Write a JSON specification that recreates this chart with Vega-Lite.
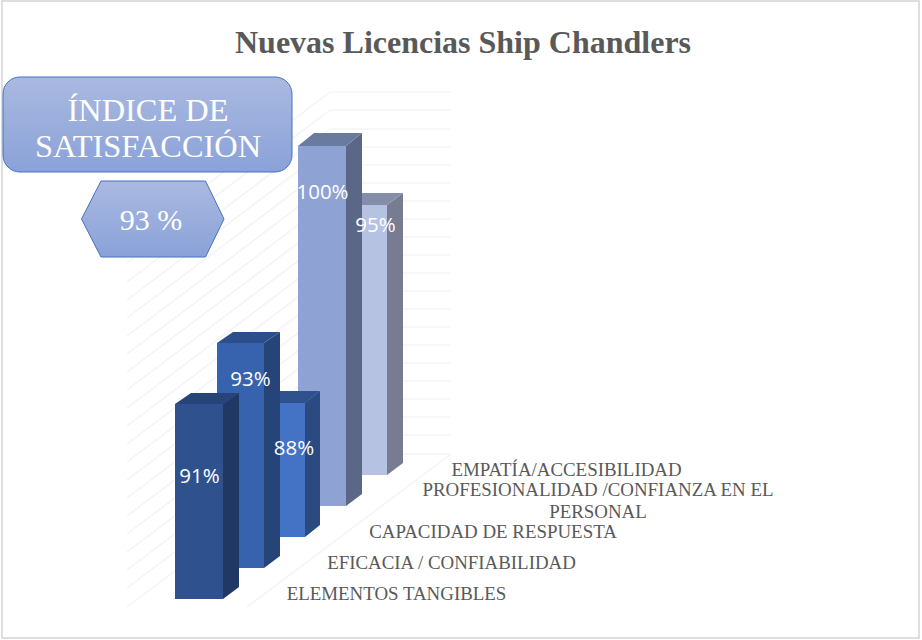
{
"$schema":"https://vega.github.io/schema/vega-lite/v6.json",
"width":922,"height":640,"autosize":"none","padding":0,
"background":"white",
"view":{"stroke":null},
"title":{"text":"Nuevas Licencias Ship Chandlers","font":"Liberation Serif","fontSize":32,"fontWeight":"bold","color":"#595959","anchor":"middle","offset":-60,"dx":2},
"datasets":{
"marco":[{"x":2,"x2":919,"y":1,"y2":638}],
"rejilla":[
{"x":330,"x2":451,"y":92,"y2":92},{"x":330,"x2":451,"y":110,"y2":110},{"x":330,"x2":451,"y":129,"y2":129},{"x":330,"x2":451,"y":147,"y2":147},{"x":330,"x2":451,"y":165,"y2":165},{"x":330,"x2":451,"y":183,"y2":183},{"x":330,"x2":451,"y":201,"y2":201},{"x":330,"x2":451,"y":219,"y2":219},{"x":330,"x2":451,"y":237,"y2":237},{"x":330,"x2":451,"y":255,"y2":255},{"x":330,"x2":451,"y":273,"y2":273},{"x":330,"x2":451,"y":291,"y2":291},{"x":330,"x2":451,"y":309,"y2":309},{"x":330,"x2":451,"y":327,"y2":327},{"x":330,"x2":451,"y":345,"y2":345},{"x":330,"x2":451,"y":363,"y2":363},{"x":330,"x2":451,"y":381,"y2":381},{"x":330,"x2":451,"y":399,"y2":399},{"x":330,"x2":451,"y":417,"y2":417},{"x":330,"x2":451,"y":435,"y2":435},{"x":330,"x2":451,"y":454,"y2":454},
{"x":127,"x2":330,"y":245,"y2":92},{"x":127,"x2":330,"y":263,"y2":110},{"x":127,"x2":330,"y":282,"y2":129},{"x":127,"x2":330,"y":300,"y2":147},{"x":127,"x2":330,"y":318,"y2":165},{"x":127,"x2":330,"y":336,"y2":183},{"x":127,"x2":330,"y":354,"y2":201},{"x":127,"x2":330,"y":372,"y2":219},{"x":127,"x2":330,"y":390,"y2":237},{"x":127,"x2":330,"y":408,"y2":255},{"x":127,"x2":330,"y":426,"y2":273},{"x":127,"x2":330,"y":444,"y2":291},{"x":127,"x2":330,"y":462,"y2":309},{"x":127,"x2":330,"y":480,"y2":327},{"x":127,"x2":330,"y":498,"y2":345},{"x":127,"x2":330,"y":516,"y2":363},{"x":127,"x2":330,"y":534,"y2":381},{"x":127,"x2":330,"y":552,"y2":399},{"x":127,"x2":330,"y":570,"y2":417},{"x":127,"x2":330,"y":588,"y2":435},{"x":127,"x2":330,"y":607,"y2":454},
{"x":247,"x2":451,"y":607,"y2":454}
],
"caras":[
{"cara":"E frente","x":339,"y":205,"y2":475},{"cara":"E frente","x":387,"y":205,"y2":475},
{"cara":"E lado","x":387,"y":205,"y2":475},{"cara":"E lado","x":403,"y":193,"y2":463},
{"cara":"E techo","x":339,"y":205,"y2":205},{"cara":"E techo","x":355,"y":193,"y2":205},{"cara":"E techo","x":387,"y":193,"y2":205},{"cara":"E techo","x":403,"y":193,"y2":193},
{"cara":"D frente","x":298,"y":146,"y2":506},{"cara":"D frente","x":346,"y":146,"y2":506},
{"cara":"D lado","x":346,"y":146,"y2":506},{"cara":"D lado","x":362,"y":133,"y2":494},
{"cara":"D techo","x":298,"y":146,"y2":146},{"cara":"D techo","x":314,"y":133,"y2":146},{"cara":"D techo","x":346,"y":133,"y2":146},{"cara":"D techo","x":362,"y":133,"y2":133},
{"cara":"C frente","x":257,"y":403,"y2":537},{"cara":"C frente","x":305,"y":403,"y2":537},
{"cara":"C lado","x":305,"y":403,"y2":537},{"cara":"C lado","x":320,"y":391,"y2":525},
{"cara":"C techo","x":257,"y":403,"y2":403},{"cara":"C techo","x":273,"y":391,"y2":403},{"cara":"C techo","x":305,"y":391,"y2":403},{"cara":"C techo","x":320,"y":391,"y2":391},
{"cara":"B frente","x":217,"y":343,"y2":568},{"cara":"B frente","x":264,"y":343,"y2":568},
{"cara":"B lado","x":264,"y":343,"y2":568},{"cara":"B lado","x":280,"y":332,"y2":556},
{"cara":"B techo","x":217,"y":343,"y2":343},{"cara":"B techo","x":233,"y":332,"y2":343},{"cara":"B techo","x":264,"y":332,"y2":343},{"cara":"B techo","x":280,"y":332,"y2":332},
{"cara":"A frente","x":175,"y":404,"y2":599},{"cara":"A frente","x":223,"y":404,"y2":599},
{"cara":"A lado","x":223,"y":404,"y2":599},{"cara":"A lado","x":239,"y":393,"y2":587},
{"cara":"A techo","x":175,"y":404,"y2":404},{"cara":"A techo","x":191,"y":393,"y2":404},{"cara":"A techo","x":223,"y":393,"y2":404},{"cara":"A techo","x":239,"y":393,"y2":393}
],
"valores":[
{"valor":0.95,"x":375.5,"y":226},{"valor":1.00,"x":322.5,"y":193},{"valor":0.88,"x":294,"y":449},{"valor":0.93,"x":250.5,"y":380},{"valor":0.91,"x":199.5,"y":477}
],
"categorias":[
{"categoria":"ELEMENTOS TANGIBLES","x":396.5,"y":600},
{"categoria":"EFICACIA / CONFIABILIDAD","x":451.5,"y":569},
{"categoria":"CAPACIDAD DE RESPUESTA","x":493,"y":538},
{"categoria":"PROFESIONALIDAD /CONFIANZA EN EL\nPERSONAL","x":598,"y":496},
{"categoria":"EMPATÍA/ACCESIBILIDAD","x":566.5,"y":476}
],
"caja":[{"x":3,"x2":292,"y":77,"y2":172}],
"hexagono":[{"x":81.5,"y":219,"y2":219},{"x":101,"y":181,"y2":257},{"x":205.5,"y":181,"y2":257},{"x":224,"y":219,"y2":219}],
"rotulos":[
{"texto":"ÍNDICE DE\nSATISFACCIÓN","x":148,"y":121,"tam":"caja"},
{"texto":"93 %","x":151,"y":230,"tam":"hex"}
]
},
"encoding":{
"x":{"field":"x","type":"quantitative","axis":null,"scale":{"domain":[0,922],"nice":false,"zero":false}},
"y":{"field":"y","type":"quantitative","axis":null,"stack":null,"scale":{"domain":[640,0],"nice":false,"zero":false}}
},
"layer":[
{"data":{"name":"marco"},"mark":{"type":"rect","fill":"white","stroke":"#d4d4d4","strokeWidth":1.5},
 "encoding":{"x2":{"field":"x2"},"y2":{"field":"y2"}}},
{"data":{"name":"rejilla"},"mark":{"type":"rule","stroke":"#f4f4f4","strokeWidth":1.5},
 "encoding":{"x2":{"field":"x2"},"y2":{"field":"y2"}}},
{"data":{"name":"caras"},"mark":{"type":"area","line":false,"interpolate":"linear","opacity":1},
 "encoding":{"y2":{"field":"y2"},
  "color":{"field":"cara","type":"nominal","legend":null,"sort":null,"scale":{
   "domain":["E frente","E lado","E techo","D frente","D lado","D techo","C frente","C lado","C techo","B frente","B lado","B techo","A frente","A lado","A techo"],
   "range":["#b6c2e2","#777c91","#858ea9","#8fa2d4","#5b6787","#6a7ba0","#4472c4","#2a4a80","#2f528f","#3763ae","#264478","#2c4f8b","#2f528f","#1f3864","#264478"]}}}},
{"data":{"name":"valores"},"mark":{"type":"text","font":"Open Sans","fontSize":20.5,"color":"white","align":"center","baseline":"middle"},
 "encoding":{"text":{"field":"valor","type":"quantitative","format":".0%"}}},
{"data":{"name":"categorias"},"mark":{"type":"text","font":"Liberation Serif","fontSize":18.9,"color":"#595959","align":"center","baseline":"alphabetic","lineBreak":"\n","lineHeight":22},
 "encoding":{"text":{"field":"categoria","type":"nominal"}}},
{"data":{"name":"caja"},"mark":{"type":"rect","cornerRadius":17,"stroke":"#4472c4","strokeWidth":1,
  "fill":{"gradient":"linear","x1":0,"y1":0,"x2":0,"y2":1,"stops":[{"offset":0,"color":"#aab9e0"},{"offset":1,"color":"#8aa2d9"}]}},
 "encoding":{"x2":{"field":"x2"},"y2":{"field":"y2"}}},
{"data":{"name":"hexagono"},"mark":{"type":"area","line":false,"stroke":"#4472c4","strokeWidth":1,
  "fill":{"gradient":"linear","x1":0,"y1":0,"x2":0,"y2":1,"stops":[{"offset":0,"color":"#aab9e0"},{"offset":1,"color":"#8aa2d9"}]}},
 "encoding":{"y2":{"field":"y2"}}},
{"data":{"name":"rotulos"},"transform":[{"filter":"datum.tam==='caja'"}],"mark":{"type":"text","font":"Liberation Serif","fontSize":32.4,"color":"white","align":"center","baseline":"alphabetic","lineBreak":"\n","lineHeight":36},
 "encoding":{"text":{"field":"texto","type":"nominal"}}},
{"data":{"name":"rotulos"},"transform":[{"filter":"datum.tam==='hex'"}],"mark":{"type":"text","font":"Liberation Serif","fontSize":30,"color":"white","align":"center","baseline":"alphabetic"},
 "encoding":{"text":{"field":"texto","type":"nominal"}}}
]
}
